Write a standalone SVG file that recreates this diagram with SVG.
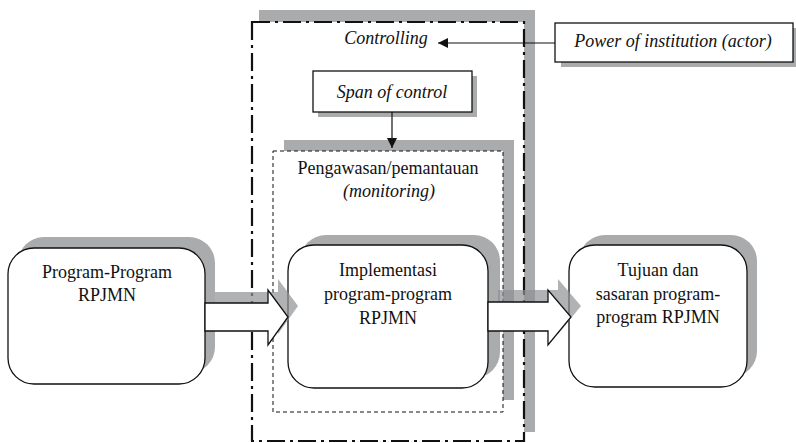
<svg xmlns="http://www.w3.org/2000/svg" width="796" height="443" viewBox="0 0 796 443">
  <style>
    .txt { font-family: "Liberation Serif", "Times New Roman", serif; font-size: 18px; fill: #111; text-anchor: middle; }
    .it { font-style: italic; }
    .shadow { fill: #a9abad; stroke: none; }
    .ashadow { fill: #8f9193; fill-opacity: 0.7; stroke: none; }
    .box { fill: #fff; stroke: #111; stroke-width: 1.3; }
    .link { fill: none; stroke: #111; stroke-width: 1.2; }
  </style>
  <defs>
    <marker id="head" viewBox="0 0 10 10" refX="10" refY="5" markerWidth="12" markerHeight="10" markerUnits="userSpaceOnUse" orient="auto">
      <path d="M0,0 L10,5 L0,10 Z" fill="#111"/>
    </marker>
  </defs>

  <!-- outer controlling frame -->
  <g id="controlling">
    <rect class="shadow" x="259" y="10" width="276" height="422"/>
    <rect x="252" y="22" width="272" height="419" fill="#fff" stroke="#111" stroke-width="2.2" stroke-dasharray="18 5 3 5"/>
    <text class="txt it" x="386" y="44">Controlling</text>
  </g>

  <g id="power">
    <rect class="shadow" x="561" y="28" width="238" height="39"/>
    <rect class="box" x="555" y="23" width="238" height="39"/>
    <text class="txt it" x="673" y="47">Power of institution (actor)</text>
  </g>

  <g id="span">
    <rect class="shadow" x="318" y="76" width="159" height="41"/>
    <rect class="box" x="313" y="71" width="159" height="41"/>
    <text class="txt it" x="392" y="98">Span of control</text>
  </g>

  <!-- monitoring frame -->
  <g id="monitoring">
    <rect class="shadow" x="284" y="140" width="230" height="260"/>
    <rect x="273" y="151" width="230" height="261" fill="#fff" stroke="#111" stroke-width="1" stroke-dasharray="4 3"/>
    <text class="txt" x="388" y="174">Pengawasan/pemantauan</text>
    <text class="txt it" x="389" y="197">(monitoring)</text>
  </g>

  <g id="program">
    <rect class="shadow" x="18" y="237" width="197" height="136" rx="26"/>
    <rect class="box" x="8" y="248" width="197" height="136" rx="26"/>
    <text class="txt" x="107" y="278">Program-Program</text>
    <text class="txt" x="107" y="301">RPJMN</text>
  </g>

  <g id="implementasi">
    <rect class="shadow" x="300" y="235" width="200" height="143" rx="26"/>
    <rect class="box" x="288" y="245" width="200" height="143" rx="26"/>
    <text class="txt" x="388" y="276">Implementasi</text>
    <text class="txt" x="388" y="300">program-program</text>
    <text class="txt" x="388" y="324">RPJMN</text>
  </g>

  <g id="tujuan">
    <rect class="shadow" x="579" y="235" width="178" height="142" rx="26"/>
    <rect class="box" x="569" y="245" width="178" height="142" rx="26"/>
    <text class="txt" x="658" y="276">Tujuan dan</text>
    <text class="txt" x="658" y="300">sasaran program-</text>
    <text class="txt" x="658" y="323">program RPJMN</text>
  </g>

  <g id="connectors">
    <!-- block arrow shadows -->
    <polygon class="ashadow" points="215,292 278,292 278,279 298,306 278,334 278,320 215,320"/>
    <polygon class="ashadow" points="498,290 558,290 558,279 581,306 558,334 558,320 498,320"/>
    <!-- block arrows -->
    <polygon class="box" points="205,303 268,303 268,290 288,317 268,345 268,331 205,331"/>
    <polygon class="box" points="488,302 548,302 548,290 571,317 548,345 548,331 488,331"/>
    <!-- line arrows -->
    <line class="link" x1="555" y1="43" x2="438" y2="43" marker-end="url(#head)"/>
    <line class="link" x1="392" y1="112" x2="392" y2="148" marker-end="url(#head)"/>
  </g>
</svg>
